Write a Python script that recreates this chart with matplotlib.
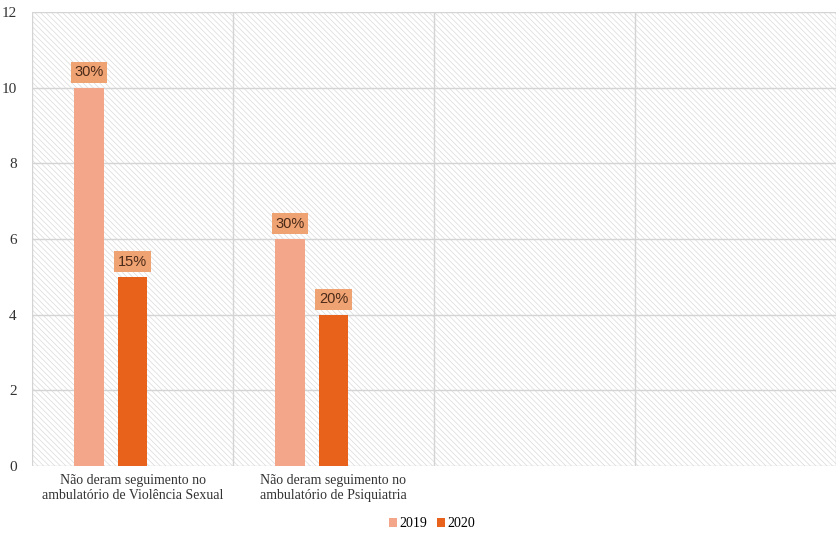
import numpy as np
import matplotlib.pyplot as plt
from matplotlib.patches import Rectangle

categories = ["Não deram seguimento no\nambulatório de Violência Sexual",
              "Não deram seguimento no\nambulatório de Psiquiatria", "", ""]
years = ["2019", "2020"]
values_2019 = [10, 6]
values_2020 = [5, 4]
labels_2019 = ["30%", "30%"]
labels_2020 = ["15%", "20%"]

colors = {"2019": "#F4A68A", "2020": "#E8621C"}
box_color = "#EFA272"
text_color = "#4A2A18"

plt.rcParams["hatch.linewidth"] = 0.5
plt.rcParams["hatch.color"] = "#dadada"

fig = plt.figure(figsize=(8.36, 5.33), dpi=100)
ax = fig.add_axes([32 / 836, 1 - 466 / 533, 1 - 32 / 836, (466 - 12) / 533])

# hatched background
bg = Rectangle((0, 0), 1, 1, transform=ax.transAxes, facecolor="white",
               edgecolor="#dadada", hatch="\\\\\\\\\\\\", linewidth=0, zorder=0)
ax.add_patch(bg)

centers = np.arange(len(values_2019)) + 0.5
width = 0.148
b19 = ax.bar(centers - 0.217, values_2019, width, color=colors["2019"], zorder=3, label="2019")
b20 = ax.bar(centers, values_2020, width, color=colors["2020"], zorder=3, label="2020")

for bars, labs in [(b19, labels_2019), (b20, labels_2020)]:
    for rect, lab in zip(bars, labs):
        ax.annotate(lab, (rect.get_x() + rect.get_width() / 2, rect.get_height()),
                    xytext=(0, 6), textcoords="offset points", ha="center", va="bottom",
                    fontsize=10.5, family="Liberation Sans", color=text_color, zorder=5,
                    bbox=dict(boxstyle="square,pad=0.25", facecolor=box_color,
                              edgecolor="none"))

ax.set_ylim(0, 12)
ax.set_yticks(range(0, 13, 2))
ax.set_xlim(0, 3.96)
ax.set_xticks(np.arange(len(categories)) + 0.5)
ax.set_xticklabels(categories, family="Liberation Serif", fontsize=10, color="#333333")
ax.set_xticks(np.arange(0, 5), minor=True)
ax.tick_params(axis="x", which="both", length=0, pad=6)
ax.tick_params(axis="y", length=0, pad=11, labelsize=11, labelcolor="#333333")
for t in ax.get_yticklabels():
    t.set_family("Liberation Serif")

ax.grid(True, axis="y", color="#d4d4d4", linewidth=1, zorder=1)
ax.grid(True, axis="x", which="minor", color="#d4d4d4", linewidth=1, zorder=1)
ax.set_axisbelow(True)
for s in ax.spines.values():
    s.set_visible(False)

fig.legend(handles=[b19, b20], labels=years, loc="center", bbox_to_anchor=(0.517, 0.017),
           ncol=2, frameon=False, handlelength=0.55, handleheight=0.55, handletextpad=0.2,
           columnspacing=0.7, prop={"family": "Liberation Serif", "size": 10})

fig.savefig("out.png", dpi=100)
